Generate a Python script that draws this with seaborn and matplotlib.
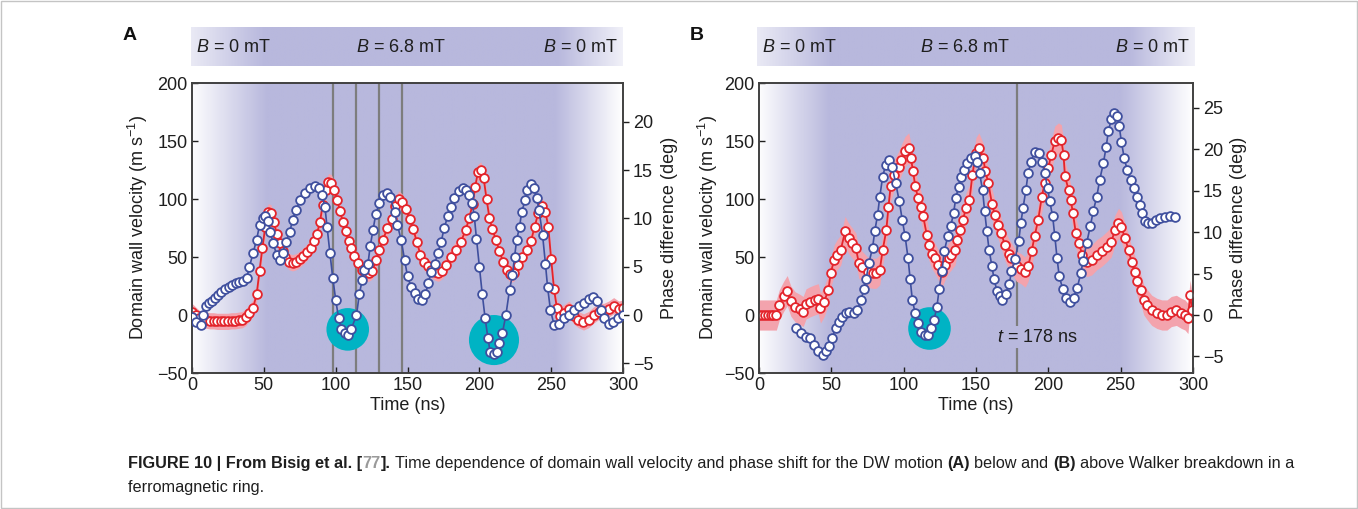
import numpy as np
import pandas as pd
import matplotlib
matplotlib.use("Agg")
import matplotlib.pyplot as plt
import seaborn as sns
from matplotlib.patches import Rectangle

# ---------------- data ----------------
time_ticks = [0, 50, 100, 150, 200, 250, 300]
vel_ticks = [-50, 0, 50, 100, 150, 200]
phaseA_ticks = [-5, 0, 5, 10, 15, 20]
phaseB_ticks = [-5, 0, 5, 10, 15, 20, 25]

# Panel A: domain wall velocity (m/s), (time ns, value)
A_velocity = [(0, 3), (2.5, 0), (5, -3), (7.5, -4), (10, -4.5), (12.5, -5), (15, -5), (17.5, -5.5),
              (20, -5.5), (22.5, -5.5), (25, -5.5), (27.5, -5), (30, -5), (32.5, -4.5), (35, -4),
              (37.5, -2), (40, 2), (42.5, 6), (45, 18), (47, 38), (49, 58), (51, 76), (53, 89),
              (55, 88), (57, 80), (59, 70), (61, 62), (63, 55), (65, 50), (67.5, 46), (70, 45),
              (72.5, 46), (75, 48), (77.5, 51), (80, 54), (82.5, 58), (85, 64), (87, 70), (89, 80),
              (91, 95), (93, 108), (95, 115), (97, 114), (99, 108), (101, 99), (103, 90), (105, 80),
              (107, 72), (109, 64), (111, 58), (113, 51), (115.5, 45), (118, 39), (120.5, 36),
              (123, 36), (125.5, 38), (128, 47), (130.5, 56), (133, 65), (136, 75), (139, 83),
              (141.5, 94), (144, 100), (146.5, 97), (149, 91), (151.5, 83), (154, 74), (156.5, 63),
              (159, 52), (161.5, 46), (164, 42), (166.5, 39), (169, 37), (171.5, 36), (174, 38),
              (177, 43), (180, 50), (183.5, 56), (187, 63), (190.5, 73), (193, 84), (195.5, 96),
              (197, 110), (199, 123), (201, 125), (203, 118), (205, 100), (207, 84), (209, 74),
              (211.5, 65), (214, 55), (216.5, 46), (219, 39), (221.5, 35), (224, 36), (227, 43),
              (230, 50), (233, 56), (236, 64), (238.5, 76), (241, 88), (243.5, 94), (246, 89),
              (248, 76), (250, 48), (252, 22), (254, 6), (256, -1), (259, 2), (262.5, 5), (266, -1),
              (269, -4), (272.5, -6), (276, -4), (279.5, 0), (283, 3), (286.5, 3), (290, 5),
              (293.5, 8), (297, 5), (300, 6)]

# Panel A: phase difference (deg)
A_phase = [(0, -0.2), (3, -0.7), (6, -1.0), (8, 0), (10, 0.9), (12, 1.2), (14, 1.4), (16, 1.8),
           (18, 2.1), (20.5, 2.4), (23, 2.7), (25.5, 2.9), (28, 3.1), (30.5, 3.3), (33, 3.4),
           (35.5, 3.5), (38, 3.8), (40, 5.0), (42.5, 6.4), (45, 7.8), (47, 9.3), (49.5, 10.0),
           (51, 10.2), (53, 9.7), (54.5, 8.6), (56.5, 7.4), (59, 6.2), (61, 5.7), (63, 6.4),
           (65.5, 7.6), (68, 8.6), (70, 9.8), (72.5, 10.9), (75.5, 11.9), (78.5, 12.6), (82, 13.1),
           (85.5, 13.3), (88.5, 13.1), (90.5, 12.4), (92.5, 11.2), (94, 9.1), (96, 6.4), (98, 3.8),
           (100, 1.6), (102, -0.3), (104, -1.4), (106.5, -1.9), (108.5, -2.1), (111, -1.4),
           (114.5, 0), (116.5, 2.2), (118.5, 3.6), (120, 4.7), (122.5, 5.3), (124, 7.1), (126, 8.8),
           (128, 10.5), (130.5, 11.6), (133, 12.4), (135.5, 12.6), (138, 12.2), (141, 10.7),
           (143, 9.3), (145.5, 7.8), (148, 5.7), (150, 4.0), (152.5, 2.9), (155, 2.3), (157.5, 1.7),
           (160, 1.6), (162.5, 2.2), (164.5, 3.3), (166.5, 4.5), (169, 5.3), (171, 6.4),
           (173.5, 7.6), (175.5, 9.0), (178, 10.2), (180, 11.2), (182.5, 12.1), (185.5, 12.8),
           (188.5, 13.1), (190.5, 12.9), (193, 12.4), (195, 11.6), (196.5, 10.2), (198, 7.9),
           (200, 5.0), (202, 2.2), (204, -0.3), (206, -2.4), (207.5, -3.8), (210, -4.0),
           (212, -3.8), (214, -2.9), (216, -1.9), (218.5, 0), (221, 2.6), (223, 4.1), (224.5, 6.0),
           (226, 7.8), (228, 9.1), (229.5, 10.7), (232, 11.9), (233.5, 12.9), (236, 13.6),
           (238, 13.1), (240, 12.1), (241.5, 10.9), (244, 8.3), (246, 5.3), (247.5, 2.9),
           (249.5, 0.5), (252, -1.0), (255.5, -0.9), (259, -0.3), (262.5, 0), (266, 0.5),
           (269.5, 0.9), (273, 1.2), (276.5, 1.7), (279, 1.9), (282, 1.4), (284.5, 0.5),
           (287, -0.3), (290, -0.9), (293, -0.7), (296.5, -0.3), (300, 0)]

# Panel B: domain wall velocity (m/s)
B_velocity = [(0, 0), (2, 0), (4, 0), (6, 0), (8, 0), (10, 0), (12, 0), (14, 8.6), (17, 16),
              (19.5, 21), (22, 12), (25, 7), (28, 5), (30.5, 3), (32.5, 9.5), (35.5, 11.5),
              (38.5, 13), (41, 14), (42.5, 6), (45, 11.5), (48, 21.6), (49.5, 36), (52, 47.5),
              (54, 52), (56.5, 56), (59.5, 72), (62, 66), (64.5, 62), (67, 57.6), (69, 44.6),
              (71.5, 41.7), (75, 37), (78.5, 36), (81, 36), (83.5, 39), (85.5, 56), (88, 73),
              (89.5, 93.5), (91, 111), (93.5, 121), (96.5, 128), (98.5, 134), (101, 141),
              (103.5, 144), (105, 135), (106.5, 124), (108, 111), (110, 100.7), (112, 93.5),
              (113.5, 85), (116, 69), (117.5, 60), (119.5, 53), (121.5, 49), (124, 43), (126.5, 37),
              (128.5, 43), (131, 49), (133, 52), (135.5, 56), (137, 65), (139, 73), (141, 82),
              (143, 92), (145.5, 99), (147.5, 121), (150, 140), (152, 144), (155, 135), (156.5, 124),
              (158.5, 114), (161, 96), (163, 86), (165.5, 78), (167.5, 70.5), (170, 60), (172.5, 53),
              (174.5, 49), (178, 42), (181, 40), (184, 37), (186, 42), (188.5, 55), (190.5, 68),
              (193, 82), (195.5, 102), (197.5, 114), (200, 127), (202, 138), (204.5, 150),
              (207, 152.6), (209, 151), (210.5, 138), (211.5, 119.5), (214, 108), (215.5, 99),
              (217, 88), (219, 70.5), (221, 62), (223.5, 52), (226.5, 46), (230, 47.5),
              (233.5, 52), (237, 55), (240.5, 59), (243.5, 63), (246, 73), (248.5, 79),
              (250.5, 76), (253, 66), (255.5, 56), (257.5, 46), (260, 37), (261.5, 29), (264, 21.6),
              (266, 13), (268.5, 8.6), (271.5, 4), (275, 1.4), (278.5, 0), (282, 0), (285, 3),
              (288.5, 4), (292, 1.4), (294.5, 0), (296.5, -3), (298, 17), (299.5, 4)]

# Panel B: phase difference (deg)
B_phase = [(25.5, -1.6), (29, -2.2), (32.5, -2.6), (35.5, -2.8), (38, -3.6), (41, -4.4), (44, -4.8),
           (46, -4.4), (48.5, -3.8), (50.5, -2.8), (53, -1.6), (55.5, -0.8), (57.5, -0.2),
           (60, 0.2), (62.5, 0.4), (65.5, 0.2), (68, 0.6), (70.5, 1.8), (72.5, 3.1), (74, 4.3),
           (76, 6.3), (78.5, 8.1), (80, 10.1), (82, 12.1), (83.5, 14.3), (85.5, 16.7), (87.5, 18.1),
           (90, 18.7), (92, 17.9), (94.5, 15.9), (97, 13.7), (99, 11.5), (101, 9.5), (103, 6.9),
           (104.5, 4.3), (106, 1.8), (108, 0.2), (110, -1.0), (112, -2.0), (114.5, -2.4),
           (116.5, -2.4), (119, -1.6), (121, -0.6), (123, 1.0), (124.5, 3.1), (126.5, 5.3),
           (128, 7.7), (130.5, 9.5), (132.5, 10.7), (134.5, 12.3), (136, 14.1), (138, 15.5),
           (139.5, 16.7), (142, 17.5), (144, 18.3), (146.5, 18.9), (149, 19.2), (151, 18.5),
           (152.5, 17.1), (154.5, 15.1), (156, 12.5), (157.5, 10.1), (159, 7.9), (161, 5.9),
           (162.5, 4.3), (164.5, 2.9), (166.5, 2.3), (168, 1.8), (170.5, 2.5), (173, 3.7),
           (174.5, 5.3), (177, 6.7), (179.5, 8.9), (181, 11.1), (182.5, 12.9), (184.5, 15.1),
           (186, 17.1), (188, 18.5), (190.5, 19.7), (193.5, 19.5), (195.5, 18.5), (197.5, 17.1),
           (199.5, 15.3), (201, 13.7), (203, 11.9), (204.5, 9.5), (206, 6.9), (207.5, 4.7),
           (210, 3.1), (212, 2.1), (215, 1.6), (217.5, 2.1), (220, 3.3), (222.5, 5.1), (224, 6.5),
           (226.5, 8.7), (229, 10.7), (231, 12.5), (233.5, 14.3), (235.5, 16.3), (238, 18.3),
           (240, 20.3), (241.5, 22.2), (243.5, 23.6), (245.5, 24.4), (247.5, 24.0), (249, 22.8),
           (250.5, 20.9), (252.5, 18.9), (254.5, 17.5), (257, 16.3), (259, 15.3), (261.5, 14.3),
           (263.5, 13.3), (265, 12.3), (267, 11.3), (269, 11.1), (271.5, 11.1), (274.5, 11.5),
           (277, 11.7), (280.5, 11.8), (284, 11.9), (287.5, 11.8)]

A_vel_err = 7      # half-width of the shaded velocity band (m/s)
B_vel_err = 13

A_markers_t = [98, 114, 130, 146]     # vertical lines (ns)
B_markers_t = [178]
A_highlight_t = [108.4, 210.2]        # cyan discs (ns, m/s)
A_highlight_v = [-12.4, -21.6]
B_highlight_t = [117.7]
B_highlight_v = [-11.5]

field_labels = [r"$B$ = 0 mT", r"$B$ = 6.8 mT", r"$B$ = 0 mT"]

# ---------------- style ----------------
sns.set_style("ticks")
plt.rcParams["font.family"] = ["Liberation Sans", "DejaVu Sans"]
plt.rcParams["mathtext.fontset"] = "custom"
plt.rcParams["mathtext.rm"] = "Liberation Sans"
plt.rcParams["mathtext.it"] = "Liberation Sans:italic"
plt.rcParams["mathtext.bf"] = "Liberation Sans:bold"
plt.rcParams["axes.unicode_minus"] = True

W, H = 1358, 509
fig = plt.figure(figsize=(W / 100, H / 100), dpi=100)
fig.patch.set_facecolor("white")

LAV = np.array([184, 184, 221]) / 255.0
RED = "#e3242b"
PINK = "#f3a3ad"
BLUE = "#3f4f9e"
CYAN = "#00b3c4"
TXT = "#1e1e1e"
FS = 13
MS = 6.3


def frac_box(x0, y0, x1, y1):
    return [x0 / W, 1 - y1 / H, (x1 - x0) / W, (y1 - y0) / H]


def gradient_image(breaks, alphas, n=600):
    xs = np.linspace(0, 1, n)
    a = np.interp(xs, breaks, alphas)
    img = (1 - a)[:, None] * np.ones(3)[None, :] + a[:, None] * LAV[None, :]
    return img[None, :, :]


def to_df(pairs, ycol):
    arr = np.array(pairs, dtype=float)
    return pd.DataFrame({"t": arr[:, 0], ycol: arr[:, 1]})


def panel(box, band_box, vel, phase, err, phase_lim, phase_ticks, vlines, hl_t, hl_v, sizes,
          grad_breaks, band_breaks, mid_x, letter, letter_xy, lab_left, lab_right, annotate=None):
    ax = fig.add_axes(frac_box(*box))
    ax.set_xlim(0, 300)
    ax.set_ylim(-50, 200)
    ax.imshow(gradient_image(grad_breaks, [0.03, 1, 1, 0.0]), extent=[0, 300, -50, 200],
              aspect="auto", zorder=0, interpolation="bilinear")
    for tv in vlines:
        ax.axvline(tv, color="#7d7d7d", lw=1.6, zorder=1.2)
    ax.scatter(hl_t, hl_v, s=sizes, color=CYAN, linewidths=0, zorder=1.5)

    dv = to_df(vel, "v")
    ax.fill_between(dv["t"], dv["v"] - err, dv["v"] + err, color=PINK, lw=0, zorder=2)
    sns.lineplot(data=dv, x="t", y="v", ax=ax, color=RED, lw=1.3, marker="o", markersize=MS,
                 markerfacecolor="white", markeredgecolor=RED, markeredgewidth=1.3,
                 estimator=None, sort=False, zorder=3)

    ax2 = ax.twinx()
    dp = to_df(phase, "p")
    sns.lineplot(data=dp, x="t", y="p", ax=ax2, color=BLUE, lw=1.2, marker="o", markersize=MS,
                 markerfacecolor="white", markeredgecolor=BLUE, markeredgewidth=1.3,
                 estimator=None, sort=False, zorder=3)
    ax2.set_ylim(*phase_lim)
    ax2.set_yticks(phase_ticks)
    ax.set_xticks(time_ticks)
    ax.set_yticks(vel_ticks)

    for a in (ax, ax2):
        for s in a.spines.values():
            s.set_linewidth(1.2)
            s.set_color("#404040")
    ax.tick_params(axis="both", direction="in", length=4, width=1, labelsize=FS, colors=TXT, pad=3)
    ax2.tick_params(axis="y", direction="out", length=4, width=1, labelsize=FS, colors=TXT, pad=3)

    ax.set_xlabel("Time (ns)", fontsize=FS, color=TXT, labelpad=2)
    ax.set_ylabel("Domain wall velocity (m s$^{-1}$)", fontsize=FS, color=TXT)
    ax.yaxis.set_label_coords(lab_left, 0.5)
    ax2.set_ylabel("Phase difference (deg)", fontsize=FS, color=TXT, rotation=90)
    ax2.yaxis.set_label_coords(lab_right, 0.5)

    if annotate is not None:
        ax.text(annotate[0], annotate[1], annotate[2], ha="center", va="center", fontsize=FS,
                color=TXT, zorder=4, bbox=dict(facecolor=LAV, edgecolor="none", pad=2))

    # field header band
    bx = fig.add_axes(frac_box(*band_box))
    bx.imshow(gradient_image(band_breaks, [0.3, 1, 1, 0.2]), extent=[0, 1, 0, 1], aspect="auto",
              interpolation="bilinear")
    bx.set_xlim(0, 1)
    bx.set_ylim(0, 1)
    bx.axis("off")
    bx.text(0.012, 0.48, field_labels[0], ha="left", va="center", fontsize=FS, color=TXT)
    bx.text(mid_x, 0.48, field_labels[1], ha="center", va="center", fontsize=FS, color=TXT)
    bx.text(0.988, 0.48, field_labels[2], ha="right", va="center", fontsize=FS, color=TXT)

    fig.text(letter_xy[0] / W, 1 - letter_xy[1] / H, letter, fontsize=14, fontweight="bold",
             color="#111111", ha="center", va="center")
    return ax, ax2


panel((192, 83, 623, 373), (191, 27, 623, 66), A_velocity, A_phase, A_vel_err, (-6, 24),
      phaseA_ticks, A_markers_t, A_highlight_t, A_highlight_v, [940, 1300],
      [0, 52 / 300, 253 / 300, 1], [0, 0.17, 0.85, 1], 0.487, "A", (130, 35), -0.097, 1.088)

panel((759, 83, 1193, 373), (757, 27, 1195, 66), B_velocity, B_phase, B_vel_err, (-7, 28),
      phaseB_ticks, B_markers_t, B_highlight_t, B_highlight_v, [940],
      [0, 48 / 300, 250 / 300, 1], [0, 0.17, 0.85, 1], 0.475, "B", (697, 35), -0.09, 1.086,
      annotate=(192.5, -19, r"$t$ = 178 ns"))

# outer frame
fig.patches.append(Rectangle((0.0004, 0.001), 0.9991, 0.997, transform=fig.transFigure,
                             fill=False, edgecolor="#c4c4c4", lw=1.0))

# ---------------- caption ----------------
CAP_FS = 11.7
renderer = fig.canvas.get_renderer()


def text_width(s, weight):
    t = fig.text(0, 0, s, fontsize=CAP_FS, fontweight=weight)
    w = t.get_window_extent(renderer=renderer).width
    t.remove()
    return w


space_w = text_width("x x", "normal") - text_width("xx", "normal")


def draw_runs(runs, x_px, y_px):
    x = x_px
    for s, weight, color in runs:
        lead = len(s) - len(s.lstrip(" "))
        x += lead * space_w
        s2 = s.strip(" ")
        t = fig.text(x / W, 1 - y_px / H, s2, fontsize=CAP_FS, fontweight=weight, color=color,
                     ha="left", va="baseline")
        x = t.get_window_extent(renderer=renderer).x1
        trail = len(s) - len(s.rstrip(" "))
        x += trail * space_w


draw_runs([("FIGURE 10 | From Bisig et al. [", "bold", TXT), ("77", "bold", "#9a9a9a"),
           ("].", "bold", TXT),
           (" Time dependence of domain wall velocity and phase shift for the DW motion ", "normal", TXT),
           ("(A)", "bold", TXT), (" below and ", "normal", TXT), ("(B)", "bold", TXT),
           (" above Walker breakdown in a", "normal", TXT)], 128, 468)
draw_runs([("ferromagnetic ring.", "normal", TXT)], 128, 492)

fig.savefig("out.png", dpi=100, facecolor="white")
